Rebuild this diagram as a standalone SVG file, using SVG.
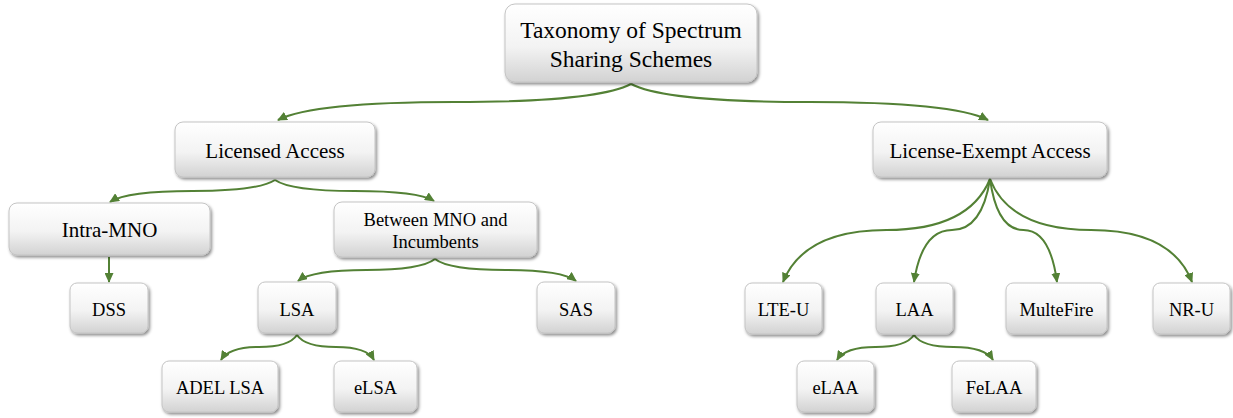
<svg xmlns="http://www.w3.org/2000/svg" width="1233" height="418" viewBox="0 0 1233 418">
<style>
.node rect{fill:url(#g);stroke:#c4c4c4;stroke-width:1;filter:url(#sh)}
.node text{font-family:"Liberation Serif","Times New Roman",serif;fill:#000;text-anchor:middle}
.t21{font-size:21px}
.t18{font-size:18.5px}
.edges path{fill:none;stroke:#538135;stroke-width:2;marker-end:url(#ah)}
</style>
<defs>
<linearGradient id="g" x1="0" y1="0" x2="0" y2="1">
<stop offset="0" stop-color="#ffffff"/>
<stop offset="0.55" stop-color="#f3f3f3"/>
<stop offset="1" stop-color="#d2d2d2"/>
</linearGradient>
<filter id="sh" x="-10%" y="-10%" width="125%" height="140%">
<feDropShadow dx="1.5" dy="2" stdDeviation="1.5" flood-color="#000" flood-opacity="0.45"/>
</filter>
<marker id="ah" markerUnits="userSpaceOnUse" markerWidth="10" markerHeight="9" refX="9" refY="4.5" orient="auto">
<path d="M0,0 L10,4.5 L0,9 z" fill="#538135"/>
</marker>
</defs>
<g id="connectors" class="edges">
<path d="M631,84 Q596,102 454.5,102 T278,120"/>
<path d="M631,84 Q666,102 809.5,102 T988,120"/>
<path d="M275,180 Q258,191 192.5,191 T110,202"/>
<path d="M275,180 Q291,191 354.5,191 T434,201"/>
<path d="M109,257 L109,282"/>
<path d="M435,259 Q421,270 366.5,270 T298,281"/>
<path d="M435,259 Q449,270 505.5,270 T576,281"/>
<path d="M297,335 Q289,347 259,347 T221,360"/>
<path d="M297,335 Q305,347 336,347 T374,360"/>
<path d="M990,179 Q969,230 886.5,230 T783,282"/>
<path d="M990,179 Q982,230 952,230 T914,282"/>
<path d="M990,179 Q997,230 1023.5,230 T1057,282"/>
<path d="M990,179 Q1010,230 1091,230 T1192,282"/>
<path d="M914,335 Q906,347 875.5,347 T837,360"/>
<path d="M914,335 Q922,347 953.5,347 T993,360"/>
</g>
<g id="root" class="node"><rect x="505" y="4" width="252" height="78" rx="10"/><text x="631" y="38" style="font-size:23.5px">Taxonomy of Spectrum</text><text x="631" y="67" style="font-size:23.5px">Sharing Schemes</text></g>
<g id="licensed" class="node"><rect x="175" y="122" width="200" height="55" rx="8"/><text class="t21" x="275" y="158">Licensed Access</text></g>
<g id="exempt" class="node"><rect x="873" y="122" width="234" height="55" rx="8"/><text class="t21" x="990" y="158">License-Exempt Access</text></g>
<g id="intra" class="node"><rect x="9" y="203" width="201" height="52" rx="8"/><text class="t21" x="109.5" y="237">Intra-MNO</text></g>
<g id="between" class="node"><rect x="334" y="202" width="203" height="55" rx="8"/><text class="t18" x="435.5" y="226">Between MNO and</text><text class="t18" x="435.5" y="248">Incumbents</text></g>
<g id="dss" class="node"><rect x="70" y="283" width="78" height="50" rx="7"/><text class="t18" x="109" y="316">DSS</text></g>
<g id="lsa" class="node"><rect x="258" y="282" width="78" height="51" rx="7"/><text class="t18" x="297" y="316">LSA</text></g>
<g id="sas" class="node"><rect x="537" y="282" width="78" height="51" rx="7"/><text class="t18" x="576" y="316">SAS</text></g>
<g id="lteu" class="node"><rect x="745" y="283" width="77" height="51" rx="7"/><text class="t18" x="783.5" y="316">LTE-U</text></g>
<g id="laa" class="node"><rect x="876" y="283" width="77" height="51" rx="7"/><text class="t18" x="914.5" y="316">LAA</text></g>
<g id="multefire" class="node"><rect x="1006" y="283" width="101" height="51" rx="7"/><text class="t18" x="1056.5" y="316">MulteFire</text></g>
<g id="nru" class="node"><rect x="1153" y="283" width="77" height="51" rx="7"/><text class="t18" x="1191.5" y="316">NR-U</text></g>
<g id="adel" class="node"><rect x="162" y="361" width="116" height="51" rx="7"/><text class="t18" x="220" y="394">ADEL LSA</text></g>
<g id="elsa" class="node"><rect x="334" y="361" width="83" height="51" rx="7"/><text class="t18" x="375.5" y="394">eLSA</text></g>
<g id="elaa" class="node"><rect x="797" y="361" width="77" height="51" rx="7"/><text class="t18" x="835.5" y="394">eLAA</text></g>
<g id="felaa" class="node"><rect x="952" y="361" width="84" height="51" rx="7"/><text class="t18" x="994" y="394">FeLAA</text></g>
</svg>
